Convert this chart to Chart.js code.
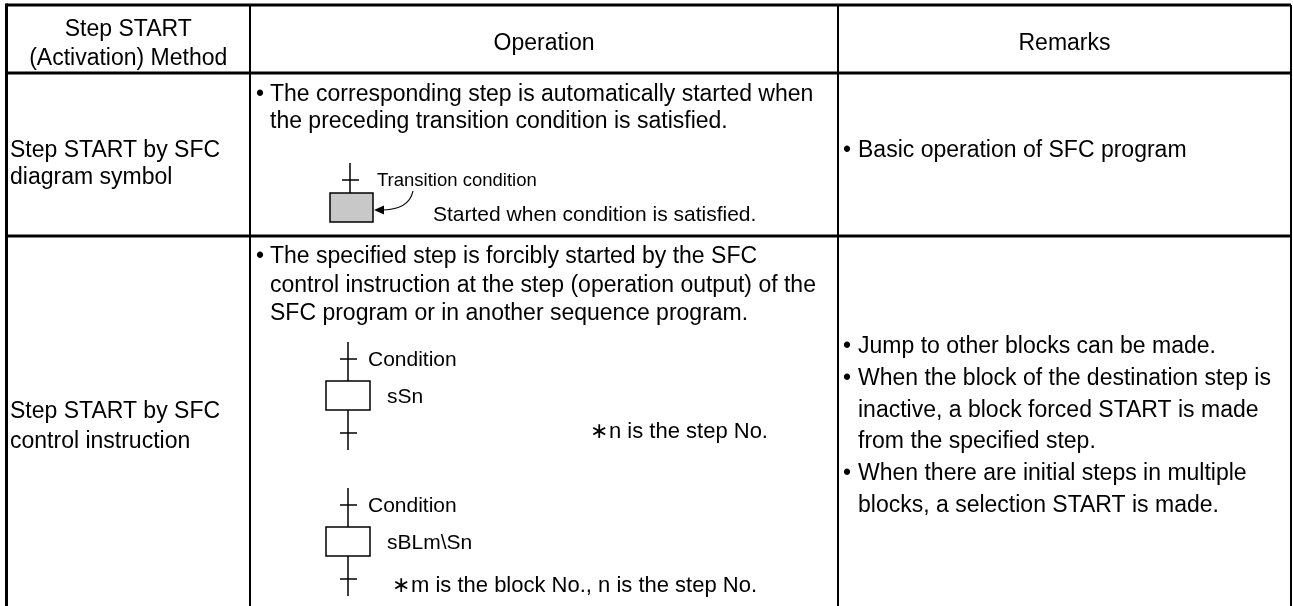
<!DOCTYPE html>
<html>
<head>
<meta charset="utf-8">
<script src="https://cdn.jsdelivr.net/npm/chart.js@4.4.1/dist/chart.umd.min.js"></script>
<style>
  html, body { margin: 0; padding: 0; background: #ffffff; }
  #wrap { position: relative; width: 1293px; height: 606px; }
</style>
</head>
<body>
<div id="wrap"><canvas id="c"></canvas></div>
<script>
// ---------- data ----------
const columnHeaders = [["Step START", "(Activation) Method"], ["Operation"], ["Remarks"]];
const methods = [["Step START by SFC", "diagram symbol"], ["Step START by SFC", "control instruction"]];
const operations = [
  ["The corresponding step is automatically started when", "the preceding transition condition is satisfied."],
  ["The specified step is forcibly started by the SFC", "control instruction at the step (operation output) of the", "SFC program or in another sequence program."]
];
const remarks = [
  [["•", "Basic operation of SFC program"]],
  [["•", "Jump to other blocks can be made."], ["•", "When the block of the destination step is"], ["", "inactive, a block forced START is made"], ["", "from the specified step."], ["•", "When there are initial steps in multiple"], ["", "blocks, a selection START is made."]]
];
const diagramLabels1 = ["Transition condition", "Started when condition is satisfied."];
const diagramLabels2 = [["Condition", "sSn", "n is the step No."], ["Condition", "sBLm\\Sn", "m is the block No., n is the step No."]];
const noteMark = "\u2217";

// ---------- layout ----------
const L = {
  left: 6.5, col1: 250, col2: 838, right: 1291,
  top: 5, headBottom: 73, rowDiv: 236, bottom: 606,
  font: '"Liberation Sans", Arial, sans-serif',
  size: 23, trans: 18.5, started: 21, label: 21, note: 22
};

const tablePlugin = {
  id: 'tablePlugin',
  afterDraw(chart) {
    const ctx = chart.ctx;
    const X = v => chart.scales.x.getPixelForValue(v);
    const Y = v => chart.scales.y.getPixelForValue(v);
    ctx.save();
    ctx.fillStyle = '#000';
    ctx.strokeStyle = '#000';
    const line = (x1, y1, x2, y2, w) => {
      ctx.lineWidth = w; ctx.beginPath(); ctx.moveTo(X(x1), Y(y1)); ctx.lineTo(X(x2), Y(y2)); ctx.stroke();
    };
    const text = (s, x, y, size, align) => {
      ctx.font = size + 'px ' + L.font;
      ctx.textAlign = align || 'left';
      ctx.textBaseline = 'alphabetic';
      ctx.fillText(s, X(x), Y(y));
      return ctx.measureText(s).width;
    };
    // grid
    line(L.left, L.top, L.right, L.top, 3);
    line(L.left - 1, L.headBottom, L.right, L.headBottom, 3);
    line(L.left - 1, L.rowDiv, L.right, L.rowDiv, 3);
    line(L.left, L.top - 1.5, L.left, L.bottom, 3);
    line(L.col1, L.top, L.col1, L.bottom, 2);
    line(L.col2, L.top, L.col2, L.bottom, 2);
    line(L.right, L.top, L.right, L.bottom, 2);

    // headers
    text(columnHeaders[0][0], (L.left + L.col1) / 2, 36, L.size, 'center');
    text(columnHeaders[0][1], (L.left + L.col1) / 2, 65, L.size, 'center');
    text(columnHeaders[1][0], (L.col1 + L.col2) / 2, 50, L.size, 'center');
    text(columnHeaders[2][0], (L.col2 + L.right) / 2, 50, L.size, 'center');

    // method column
    text(methods[0][0], 10, 157, L.size);
    text(methods[0][1], 10, 184, L.size);
    text(methods[1][0], 10, 418, L.size);
    text(methods[1][1], 10, 448, L.size);

    // operation texts
    const opX = L.col1 + 6, opT = L.col1 + 20;
    text('•', opX, 101, L.size);
    text(operations[0][0], opT, 101, L.size);
    text(operations[0][1], opT, 128, L.size);
    text('•', opX, 263, L.size);
    const ob = [263, 291.5, 320];
    operations[1].forEach((s, i) => text(s, opT, ob[i], L.size));

    // remarks
    const rX = L.col2 + 5, rT = L.col2 + 20;
    text(remarks[0][0][0], rX, 157, L.size);
    text(remarks[0][0][1], rT, 157, L.size);
    const rb = [353, 385, 417, 448, 480, 512];
    remarks[1].forEach((r, i) => {
      if (r[0]) text(r[0], rX, rb[i], L.size);
      text(r[1], rT, rb[i], L.size);
    });

    // diagram 1 (grey step with transition)
    line(350, 163, 350, 193, 1.5);
    line(342, 180, 359, 180, 1.5);
    ctx.fillStyle = '#c8c8c8';
    ctx.fillRect(X(330), Y(193), 43, 29);
    ctx.fillStyle = '#000';
    ctx.lineWidth = 1.5;
    ctx.strokeRect(X(330), Y(193), 43, 29);
    text(diagramLabels1[0], 377, 186, L.trans);
    text(diagramLabels1[1], 433, 221, L.started);
    ctx.lineWidth = 1.2;
    ctx.beginPath();
    ctx.moveTo(X(413), Y(191));
    ctx.quadraticCurveTo(X(409), Y(210), X(381), Y(210));
    ctx.stroke();
    ctx.beginPath();
    ctx.moveTo(X(374), Y(210)); ctx.lineTo(X(384), Y(205.5)); ctx.lineTo(X(384), Y(214.5)); ctx.closePath();
    ctx.fill();

    // diagram 2 and 3 (control instruction steps)
    const drawStep = (t, labels, noteX, noteY) => {
      const cx = 348;
      const boxTop = t + 39, boxBot = boxTop + 29;
      line(cx, t, cx, boxTop, 1.5);
      line(340, t + 17, 357, t + 17, 1.5);
      ctx.lineWidth = 1.5;
      ctx.strokeRect(X(326), Y(boxTop), 44, 29);
      line(cx, boxBot, cx, boxBot + 40, 1.5);
      line(340, boxBot + 23, 357, boxBot + 23, 1.5);
      text(labels[0], 368, t + 24, L.label);
      text(labels[1], 387, boxBot - 7, L.label);
      const w = text(noteMark, noteX, noteY, L.note);
      text(labels[2], noteX + w + 1, noteY, L.note);
    };
    drawStep(342, diagramLabels2[0], 590, 438);
    drawStep(488, diagramLabels2[1], 392, 592);
    ctx.restore();
  }
};

new Chart(document.getElementById('c'), {
  type: 'scatter',
  data: { datasets: [{ data: [], pointRadius: 0 }] },
  options: {
    responsive: true,
    maintainAspectRatio: false,
    animation: false,
    layout: { padding: 0 },
    plugins: { legend: { display: false }, tooltip: { enabled: false }, title: { display: false } },
    scales: {
      x: { type: 'linear', min: 0, max: 1293, display: false },
      y: { type: 'linear', min: 0, max: 606, reverse: true, display: false }
    }
  },
  plugins: [tablePlugin]
});
</script>
</body>
</html>
